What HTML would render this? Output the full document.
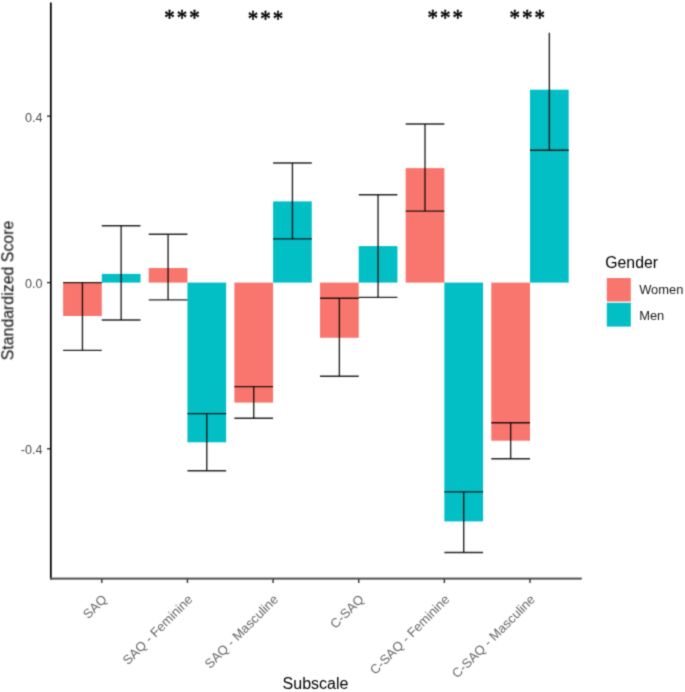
<!DOCTYPE html>
<html><head><meta charset="utf-8"><style>
html,body{margin:0;padding:0;background:#fff;}
body{width:685px;height:692px;overflow:hidden;}
svg{display:block;font-family:"Liberation Sans",sans-serif;}
</style></head><body>
<svg width="685" height="692" viewBox="0 0 685 692">
<defs><filter id="bl" x="0" y="0" width="685" height="692" filterUnits="userSpaceOnUse" color-interpolation-filters="sRGB"><feConvolveMatrix order="3" kernelMatrix="1 4 1 4 16 4 1 4 1" edgeMode="duplicate"/></filter></defs>
<g filter="url(#bl)">
<rect width="685" height="692" fill="#fff"/>
<rect x="63.10" y="282.60" width="38.70" height="33.40" fill="#F8766D"/>
<rect x="101.80" y="273.90" width="38.70" height="8.70" fill="#02BEC5"/>
<rect x="148.74" y="268.00" width="38.70" height="14.60" fill="#F8766D"/>
<rect x="187.44" y="282.60" width="38.70" height="159.70" fill="#02BEC5"/>
<rect x="234.38" y="282.60" width="38.70" height="120.00" fill="#F8766D"/>
<rect x="273.08" y="201.40" width="38.70" height="81.20" fill="#02BEC5"/>
<rect x="320.02" y="282.60" width="38.70" height="55.20" fill="#F8766D"/>
<rect x="358.72" y="246.10" width="38.70" height="36.50" fill="#02BEC5"/>
<rect x="405.66" y="168.10" width="38.70" height="114.50" fill="#F8766D"/>
<rect x="444.36" y="282.60" width="38.70" height="238.80" fill="#02BEC5"/>
<rect x="491.30" y="282.60" width="38.70" height="158.10" fill="#F8766D"/>
<rect x="530.00" y="89.70" width="38.70" height="192.90" fill="#02BEC5"/>
<line x1="82.45" y1="282.60" x2="82.45" y2="350.40" stroke="#000" stroke-width="1.4" stroke-opacity="0.85"/>
<line x1="63.10" y1="282.60" x2="101.80" y2="282.60" stroke="#000" stroke-width="1.4" stroke-opacity="0.85"/>
<line x1="63.10" y1="350.40" x2="101.80" y2="350.40" stroke="#000" stroke-width="1.4" stroke-opacity="0.85"/>
<line x1="121.15" y1="225.70" x2="121.15" y2="320.00" stroke="#000" stroke-width="1.4" stroke-opacity="0.85"/>
<line x1="101.80" y1="225.70" x2="140.50" y2="225.70" stroke="#000" stroke-width="1.4" stroke-opacity="0.85"/>
<line x1="101.80" y1="320.00" x2="140.50" y2="320.00" stroke="#000" stroke-width="1.4" stroke-opacity="0.85"/>
<line x1="168.09" y1="234.20" x2="168.09" y2="299.90" stroke="#000" stroke-width="1.4" stroke-opacity="0.85"/>
<line x1="148.74" y1="234.20" x2="187.44" y2="234.20" stroke="#000" stroke-width="1.4" stroke-opacity="0.85"/>
<line x1="148.74" y1="299.90" x2="187.44" y2="299.90" stroke="#000" stroke-width="1.4" stroke-opacity="0.85"/>
<line x1="206.79" y1="413.60" x2="206.79" y2="470.80" stroke="#000" stroke-width="1.4" stroke-opacity="0.85"/>
<line x1="187.44" y1="413.60" x2="226.14" y2="413.60" stroke="#000" stroke-width="1.4" stroke-opacity="0.85"/>
<line x1="187.44" y1="470.80" x2="226.14" y2="470.80" stroke="#000" stroke-width="1.4" stroke-opacity="0.85"/>
<line x1="253.73" y1="386.60" x2="253.73" y2="418.20" stroke="#000" stroke-width="1.4" stroke-opacity="0.85"/>
<line x1="234.38" y1="386.60" x2="273.08" y2="386.60" stroke="#000" stroke-width="1.4" stroke-opacity="0.85"/>
<line x1="234.38" y1="418.20" x2="273.08" y2="418.20" stroke="#000" stroke-width="1.4" stroke-opacity="0.85"/>
<line x1="292.43" y1="163.00" x2="292.43" y2="238.90" stroke="#000" stroke-width="1.4" stroke-opacity="0.85"/>
<line x1="273.08" y1="163.00" x2="311.78" y2="163.00" stroke="#000" stroke-width="1.4" stroke-opacity="0.85"/>
<line x1="273.08" y1="238.90" x2="311.78" y2="238.90" stroke="#000" stroke-width="1.4" stroke-opacity="0.85"/>
<line x1="339.37" y1="298.20" x2="339.37" y2="376.30" stroke="#000" stroke-width="1.4" stroke-opacity="0.85"/>
<line x1="320.02" y1="298.20" x2="358.72" y2="298.20" stroke="#000" stroke-width="1.4" stroke-opacity="0.85"/>
<line x1="320.02" y1="376.30" x2="358.72" y2="376.30" stroke="#000" stroke-width="1.4" stroke-opacity="0.85"/>
<line x1="378.07" y1="194.70" x2="378.07" y2="297.40" stroke="#000" stroke-width="1.4" stroke-opacity="0.85"/>
<line x1="358.72" y1="194.70" x2="397.42" y2="194.70" stroke="#000" stroke-width="1.4" stroke-opacity="0.85"/>
<line x1="358.72" y1="297.40" x2="397.42" y2="297.40" stroke="#000" stroke-width="1.4" stroke-opacity="0.85"/>
<line x1="425.01" y1="124.00" x2="425.01" y2="211.10" stroke="#000" stroke-width="1.4" stroke-opacity="0.85"/>
<line x1="405.66" y1="124.00" x2="444.36" y2="124.00" stroke="#000" stroke-width="1.4" stroke-opacity="0.85"/>
<line x1="405.66" y1="211.10" x2="444.36" y2="211.10" stroke="#000" stroke-width="1.4" stroke-opacity="0.85"/>
<line x1="463.71" y1="491.90" x2="463.71" y2="552.50" stroke="#000" stroke-width="1.4" stroke-opacity="0.85"/>
<line x1="444.36" y1="491.90" x2="483.06" y2="491.90" stroke="#000" stroke-width="1.4" stroke-opacity="0.85"/>
<line x1="444.36" y1="552.50" x2="483.06" y2="552.50" stroke="#000" stroke-width="1.4" stroke-opacity="0.85"/>
<line x1="510.65" y1="422.80" x2="510.65" y2="458.80" stroke="#000" stroke-width="1.4" stroke-opacity="0.85"/>
<line x1="491.30" y1="422.80" x2="530.00" y2="422.80" stroke="#000" stroke-width="1.4" stroke-opacity="0.85"/>
<line x1="491.30" y1="458.80" x2="530.00" y2="458.80" stroke="#000" stroke-width="1.4" stroke-opacity="0.85"/>
<line x1="549.35" y1="32.70" x2="549.35" y2="150.30" stroke="#000" stroke-width="1.4" stroke-opacity="0.85"/>
<line x1="530.00" y1="150.30" x2="568.70" y2="150.30" stroke="#000" stroke-width="1.4" stroke-opacity="0.85"/>
<rect x="49.95" y="2.5" width="1.75" height="577" fill="#000"/>
<rect x="50" y="577.6" width="531.8" height="2" fill="#505050"/>
<line x1="47" y1="116.2" x2="50" y2="116.2" stroke="#333" stroke-width="1.4"/>
<text x="42.4" y="121.5" text-anchor="end" font-size="12.6" fill="#4D4D4D">0.4</text>
<line x1="47" y1="282.6" x2="50" y2="282.6" stroke="#333" stroke-width="1.4"/>
<text x="42.4" y="287.9" text-anchor="end" font-size="12.6" fill="#4D4D4D">0.0</text>
<line x1="47" y1="448.8" x2="50" y2="448.8" stroke="#333" stroke-width="1.4"/>
<text x="42.4" y="454.1" text-anchor="end" font-size="12.6" fill="#4D4D4D">-0.4</text>
<line x1="101.80" y1="579" x2="101.80" y2="583" stroke="#333" stroke-width="1.4"/>
<line x1="187.44" y1="579" x2="187.44" y2="583" stroke="#333" stroke-width="1.4"/>
<line x1="273.08" y1="579" x2="273.08" y2="583" stroke="#333" stroke-width="1.4"/>
<line x1="358.72" y1="579" x2="358.72" y2="583" stroke="#333" stroke-width="1.4"/>
<line x1="444.36" y1="579" x2="444.36" y2="583" stroke="#333" stroke-width="1.4"/>
<line x1="530.00" y1="579" x2="530.00" y2="583" stroke="#333" stroke-width="1.4"/>
<text transform="translate(101.00,593.40) rotate(-45)" x="0" y="0" text-anchor="end" dominant-baseline="hanging" font-size="13" fill="#686868">SAQ</text>
<text transform="translate(186.64,593.40) rotate(-45)" x="0" y="0" text-anchor="end" dominant-baseline="hanging" font-size="13" fill="#686868">SAQ - Feminine</text>
<text transform="translate(272.28,593.40) rotate(-45)" x="0" y="0" text-anchor="end" dominant-baseline="hanging" font-size="13" fill="#686868">SAQ - Masculine</text>
<text transform="translate(357.92,593.40) rotate(-45)" x="0" y="0" text-anchor="end" dominant-baseline="hanging" font-size="13" fill="#686868">C-SAQ</text>
<text transform="translate(443.56,593.40) rotate(-45)" x="0" y="0" text-anchor="end" dominant-baseline="hanging" font-size="13" fill="#686868">C-SAQ - Feminine</text>
<text transform="translate(529.20,593.40) rotate(-45)" x="0" y="0" text-anchor="end" dominant-baseline="hanging" font-size="13" fill="#686868">C-SAQ - Masculine</text>
<text font-family="Liberation Serif" font-size="21" transform="translate(169.40,13.80) scale(1,1.1)" x="-5.25" y="9.97" fill="#000" stroke="#000" stroke-width="0.5">*</text>
<text font-family="Liberation Serif" font-size="21" transform="translate(181.90,13.80) scale(1,1.1)" x="-5.25" y="9.97" fill="#000" stroke="#000" stroke-width="0.5">*</text>
<text font-family="Liberation Serif" font-size="21" transform="translate(194.40,13.80) scale(1,1.1)" x="-5.25" y="9.97" fill="#000" stroke="#000" stroke-width="0.5">*</text>
<text font-family="Liberation Serif" font-size="21" transform="translate(252.90,15.40) scale(1,1.1)" x="-5.25" y="9.97" fill="#000" stroke="#000" stroke-width="0.5">*</text>
<text font-family="Liberation Serif" font-size="21" transform="translate(265.40,15.40) scale(1,1.1)" x="-5.25" y="9.97" fill="#000" stroke="#000" stroke-width="0.5">*</text>
<text font-family="Liberation Serif" font-size="21" transform="translate(277.90,15.40) scale(1,1.1)" x="-5.25" y="9.97" fill="#000" stroke="#000" stroke-width="0.5">*</text>
<text font-family="Liberation Serif" font-size="21" transform="translate(432.70,13.80) scale(1,1.1)" x="-5.25" y="9.97" fill="#000" stroke="#000" stroke-width="0.5">*</text>
<text font-family="Liberation Serif" font-size="21" transform="translate(445.20,13.80) scale(1,1.1)" x="-5.25" y="9.97" fill="#000" stroke="#000" stroke-width="0.5">*</text>
<text font-family="Liberation Serif" font-size="21" transform="translate(457.70,13.80) scale(1,1.1)" x="-5.25" y="9.97" fill="#000" stroke="#000" stroke-width="0.5">*</text>
<text font-family="Liberation Serif" font-size="21" transform="translate(514.80,14.20) scale(1,1.1)" x="-5.25" y="9.97" fill="#000" stroke="#000" stroke-width="0.5">*</text>
<text font-family="Liberation Serif" font-size="21" transform="translate(527.30,14.20) scale(1,1.1)" x="-5.25" y="9.97" fill="#000" stroke="#000" stroke-width="0.5">*</text>
<text font-family="Liberation Serif" font-size="21" transform="translate(539.80,14.20) scale(1,1.1)" x="-5.25" y="9.97" fill="#000" stroke="#000" stroke-width="0.5">*</text>
<text x="315.5" y="689" text-anchor="middle" font-size="16" fill="#000">Subscale</text>
<text transform="translate(13.3,290.5) rotate(-90)" x="0" y="0" text-anchor="middle" font-size="15.9" fill="#000">Standardized Score</text>
<text x="605.3" y="267.9" font-size="15.8" fill="#000">Gender</text>
<rect x="606.8" y="278" width="24" height="23.5" fill="#F8766D"/>
<rect x="606.8" y="302.8" width="24" height="23.8" fill="#02BEC5"/>
<text x="639.2" y="294.3" font-size="12.9" fill="#1a1a1a">Women</text>
<text x="639.2" y="320.2" font-size="12.9" fill="#1a1a1a">Men</text>
</g>
</svg>
</body></html>
